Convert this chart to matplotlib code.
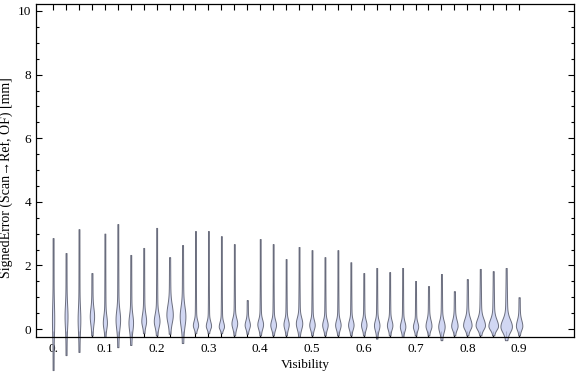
import numpy as np
import matplotlib
matplotlib.use("Agg")
import matplotlib.pyplot as plt
from matplotlib.ticker import FixedLocator, FixedFormatter, MultipleLocator

# visibility bins (violin centres)
vis = [round(0.025 * i, 3) for i in range(37)]
# max / min signed error in each bin [mm]
err_max = [2.86, 2.39, 3.14, 1.76, 3.00, 3.30, 2.33, 2.55, 3.18, 2.26,
           2.64, 3.08, 3.08, 2.92, 2.67, 0.91, 2.83, 2.67, 2.20, 2.58,
           2.48, 2.26, 2.48, 2.10, 1.76, 1.92, 1.79, 1.92, 1.51, 1.35,
           1.73, 1.19, 1.57, 1.89, 1.82, 1.92, 1.00]
err_min = [-1.29, -0.82, -0.72, -0.20, -0.25, -0.57, -0.50, -0.13, -0.20, -0.15,
           -0.44, -0.13, -0.13, -0.13, -0.20, -0.15, -0.20, -0.20, -0.20, -0.25,
           -0.20, -0.20, -0.20, -0.20, -0.20, -0.30, -0.20, -0.25, -0.20, -0.20,
           -0.35, -0.20, -0.20, -0.20, -0.20, -0.35, -0.20]
# location and spread of the main body of each distribution
err_mode = [0.30, 0.40, 0.30, 0.40, 0.20, 0.30, 0.20, 0.25, 0.25, 0.45,
            0.40, 0.12, 0.10, 0.08, 0.18, 0.13, 0.15, 0.13, 0.15, 0.18,
            0.13, 0.13, 0.13, 0.13, 0.13, 0.12, 0.12, 0.08, 0.08, 0.10,
            0.08, 0.10, 0.12, 0.12, 0.10, 0.08, 0.10]
err_sigma = [0.45, 0.35, 0.35, 0.25, 0.22, 0.28, 0.25, 0.22, 0.22, 0.30,
             0.30, 0.14, 0.14, 0.14, 0.16, 0.14, 0.15, 0.15, 0.15, 0.18,
             0.15, 0.15, 0.15, 0.15, 0.15, 0.15, 0.15, 0.15, 0.13, 0.18,
             0.18, 0.18, 0.20, 0.20, 0.20, 0.22, 0.18]
# relative peak density (half width of the violin body)
peak = [0.6, 0.9, 0.8, 1.5, 1.4, 1.6, 1.6, 1.7, 2.1, 2.4,
        2.1, 1.9, 1.9, 1.9, 2.1, 1.9, 2.1, 2.1, 1.9, 2.4,
        2.0, 2.0, 2.0, 2.0, 2.0, 2.0, 2.0, 2.0, 1.9, 2.2,
        2.4, 2.4, 3.3, 3.7, 3.8, 4.6, 2.4]

px = 1.0 / 517.8  # data units per pixel along x

fig = plt.figure(figsize=(5.76, 3.77), dpi=100)
ax = fig.add_axes([36 / 576, 1 - 337 / 377, 538 / 576, 333 / 377])

for x, lo, hi, mu, sg, pk in zip(vis, err_min, err_max, err_mode, err_sigma, peak):
    y = np.linspace(lo, hi, 400)
    s = np.where(y < mu, min(sg, (mu - lo) / 2.5), sg)
    d = pk * np.exp(-0.5 * ((y - mu) / s) ** 2)
    d += 0.15 * pk * np.exp(-0.5 * ((y - mu) / (4 * s)) ** 2)
    d += 0.45
    w = d * px
    ax.fill_betweenx(y, x - w, x + w, facecolor="#c9d0f2", edgecolor="#555868",
                     linewidth=0.7, alpha=0.85, clip_on=False, zorder=2)

ax.set_xlim(-0.033, 1.006)
ax.set_ylim(-0.25, 10.22)

labels = []
for v in vis:
    if abs(v * 10 - round(v * 10)) < 1e-6:
        labels.append("0." if v == 0 else "%.1f" % v)
    else:
        labels.append("")
ax.xaxis.set_major_locator(FixedLocator(vis))
ax.xaxis.set_major_formatter(FixedFormatter(labels))
ax.yaxis.set_major_locator(MultipleLocator(2))
ax.yaxis.set_minor_locator(MultipleLocator(0.5))
ax.tick_params(which="both", direction="in", top=True, right=True, width=0.8,
               labelsize=9.5, colors="black")
ax.tick_params(which="major", length=4)
ax.tick_params(which="minor", length=2)
ax.tick_params(axis="x", length=4, pad=4)

for sp in ax.spines.values():
    sp.set_linewidth(0.9)
    sp.set_zorder(3)

for lab in ax.get_xticklabels() + ax.get_yticklabels():
    lab.set_family("Liberation Serif")

ax.set_xlabel("Visibility", family="Liberation Serif", fontsize=9.5, labelpad=3)
ax.set_ylabel("SignedError (Scan\u2192Ref, OF) [mm]", family=["Liberation Serif", "DejaVu Sans"],
              fontsize=10)
ax.yaxis.set_label_coords(-0.042, 0.48)

fig.savefig("out.png", dpi=100)
